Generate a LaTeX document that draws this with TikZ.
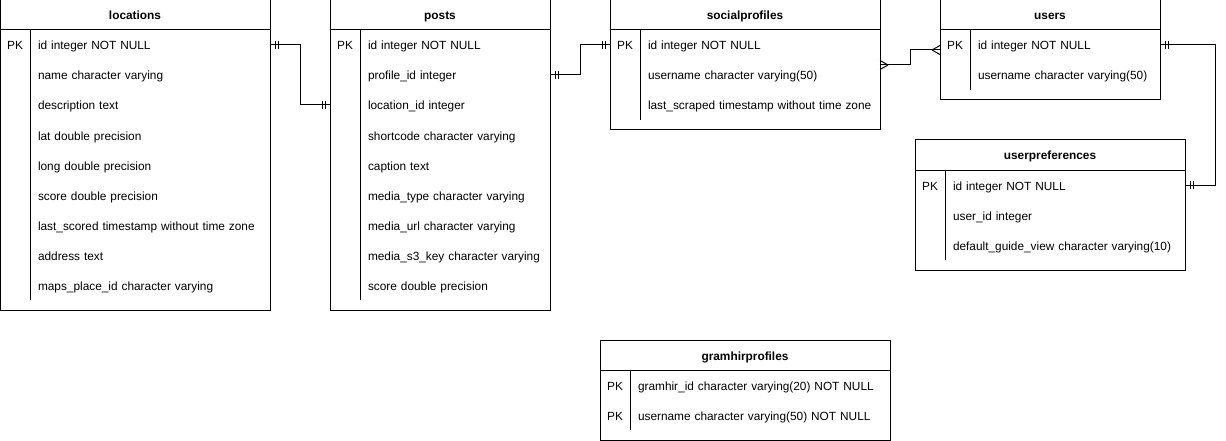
\documentclass[12pt,tikz,border=0pt]{standalone}
\usepackage{fontspec}
\setmainfont{Liberation Sans}
\usepackage{tikz}
\usetikzlibrary{positioning, decorations.markings}
\newcommand{\erdfont}{\fontsize{11.85pt}{14pt}\selectfont}
\tikzstyle{tablehead} = [
    rectangle, minimum height=30pt, inner sep=0pt, outer sep=0pt,
    text height=11pt, text depth=1pt,
    text centered, draw=black, line width=1pt, font=\erdfont\bfseries
]
\tikzstyle{tablebody} = [
    rectangle, inner sep=0pt, outer sep=0pt, draw=black, line width=1pt
]
\tikzstyle{fieldcell} = [
    rectangle, minimum height=30pt, text width=240pt, align=left,
    text height=11pt, text depth=1pt,
    inner sep=0pt, outer sep=0pt, font=\erdfont
]
\tikzstyle{pkcell} = [rectangle, inner sep=0pt, outer sep=0pt,
    text height=11pt, text depth=1pt, font=\erdfont]
\tikzstyle{divider} = [line width=1pt]
\tikzstyle{oneone} = [line width=1pt, postaction={decorate,
    decoration={markings,
    mark=at position 5pt with {\draw (0,-4pt) -- (0,4pt);},
    mark=at position 8pt with {\draw (0,-4pt) -- (0,4pt);},
    mark=at position -8pt with {\draw (0,-4pt) -- (0,4pt);},
    mark=at position -5pt with {\draw (0,-4pt) -- (0,4pt);}}}]
\tikzstyle{manymany} = [line width=1pt, postaction={decorate,
    decoration={markings,
    mark=at position 0.01pt with {\draw (8pt,0) -- (0,4.5pt) (8pt,0) -- (0,-4.5pt);},
    mark=at position -0.01pt with {\draw (-8pt,0) -- (0,4.5pt) (-8pt,0) -- (0,-4.5pt);}}}]

\begin{document}
\begin{tikzpicture}[x=1pt, y=1pt]
        \useasboundingbox (0,0) rectangle (1226,-441);

        % locations
        \node (locations) [tablehead, minimum width=270pt] at (135,-15) {locations};
        \node (locbody) [tablebody, minimum width=270pt, minimum height=280pt,
            below=0pt of locations] {};
        \node (loc1) [fieldcell, anchor=west]
            at ([xshift=38pt,yshift=-15pt]locbody.north west) {id integer NOT NULL};
        \node (loc2) [fieldcell, below=0pt of loc1] {name character varying};
        \node (loc3) [fieldcell, below=0pt of loc2] {description text};
        \node (loc4) [fieldcell, below=0pt of loc3] {lat double precision};
        \node (loc5) [fieldcell, below=0pt of loc4] {long double precision};
        \node (loc6) [fieldcell, below=0pt of loc5] {score double precision};
        \node (loc7) [fieldcell, below=0pt of loc6] {last\_scored timestamp without time zone};
        \node (loc8) [fieldcell, below=0pt of loc7] {address text};
        \node (loc9) [fieldcell, below=0pt of loc8] {maps\_place\_id character varying};
        \node (locpk) [pkcell, left=15pt of loc1] {PK};
        \draw [divider] ([xshift=-8pt]loc1.north west) -- ([xshift=-8pt]loc9.south west);

        % posts
        \node (posts) [tablehead, minimum width=220pt, right=60pt of locations] {posts};
        \node (postbody) [tablebody, minimum width=220pt, minimum height=280pt,
            below=0pt of posts] {};
        \node (post1) [fieldcell, anchor=west]
            at ([xshift=38pt,yshift=-15pt]postbody.north west) {id integer NOT NULL};
        \node (post2) [fieldcell, below=0pt of post1] {profile\_id integer};
        \node (post3) [fieldcell, below=0pt of post2] {location\_id integer};
        \node (post4) [fieldcell, below=0pt of post3] {shortcode character varying};
        \node (post5) [fieldcell, below=0pt of post4] {caption text};
        \node (post6) [fieldcell, below=0pt of post5] {media\_type character varying};
        \node (post7) [fieldcell, below=0pt of post6] {media\_url character varying};
        \node (post8) [fieldcell, below=0pt of post7] {media\_s3\_key character varying};
        \node (post9) [fieldcell, below=0pt of post8] {score double precision};
        \node (postpk) [pkcell, left=15pt of post1] {PK};
        \draw [divider] ([xshift=-8pt]post1.north west) -- ([xshift=-8pt]post9.south west);

        % socialprofiles
        \node (social) [tablehead, minimum width=270pt, right=60pt of posts] {socialprofiles};
        \node (socbody) [tablebody, minimum width=270pt, minimum height=100pt,
            below=0pt of social] {};
        \node (soc1) [fieldcell, anchor=west]
            at ([xshift=38pt,yshift=-15pt]socbody.north west) {id integer NOT NULL};
        \node (soc2) [fieldcell, below=0pt of soc1] {username character varying(50)};
        \node (soc3) [fieldcell, below=0pt of soc2] {last\_scraped timestamp without time zone};
        \node (socpk) [pkcell, left=15pt of soc1] {PK};
        \draw [divider] ([xshift=-8pt]soc1.north west) -- ([xshift=-8pt]soc3.south west);

        % users
        \node (users) [tablehead, minimum width=220pt, right=60pt of social] {users};
        \node (usrbody) [tablebody, minimum width=220pt, minimum height=70pt,
            below=0pt of users] {};
        \node (usr1) [fieldcell, anchor=west]
            at ([xshift=38pt,yshift=-15pt]usrbody.north west) {id integer NOT NULL};
        \node (usr2) [fieldcell, below=0pt of usr1] {username character varying(50)};
        \node (usrpk) [pkcell, left=15pt of usr1] {PK};
        \draw [divider] ([xshift=-8pt]usr1.north west) -- ([xshift=-8pt]usr2.south west);

        % userpreferences
        \node (prefs) [tablehead, minimum width=270pt, below=40pt of usrbody] {userpreferences};
        \node (prefbody) [tablebody, minimum width=270pt, minimum height=100pt,
            below=0pt of prefs] {};
        \node (pref1) [fieldcell, anchor=west]
            at ([xshift=38pt,yshift=-15pt]prefbody.north west) {id integer NOT NULL};
        \node (pref2) [fieldcell, below=0pt of pref1] {user\_id integer};
        \node (pref3) [fieldcell, below=0pt of pref2] {default\_guide\_view character varying(10)};
        \node (prefpk) [pkcell, left=15pt of pref1] {PK};
        \draw [divider] ([xshift=-8pt]pref1.north west) -- ([xshift=-8pt]pref3.south west);

        % gramhirprofiles
        \node (gramhir) [tablehead, minimum width=290pt, below=210pt of socbody] {gramhirprofiles};
        \node (grambody) [tablebody, minimum width=290pt, minimum height=70pt,
            below=0pt of gramhir] {};
        \node (gram1) [fieldcell, anchor=west]
            at ([xshift=38pt,yshift=-15pt]grambody.north west) {gramhir\_id character varying(20) NOT NULL};
        \node (gram2) [fieldcell, below=0pt of gram1] {username character varying(50) NOT NULL};
        \node (grampk1) [pkcell, left=15pt of gram1] {PK};
        \node (grampk2) [pkcell, left=15pt of gram2] {PK};
        \draw [divider] ([xshift=-8pt]gram1.north west) -- ([xshift=-8pt]gram2.south west);

        % relations
        \draw [oneone] (loc1.west -| locbody.east) -- ++(30,0)
            |- (post3.west -| postbody.west);
        \draw [oneone] (post2.west -| postbody.east) -- ++(30,0)
            |- (soc1.west -| socbody.west);
        \draw [manymany] ([yshift=15pt]socbody.east) -- ++(30,0)
            |- ([yshift=15pt]usrbody.west);
        \draw [oneone] (usr1.west -| usrbody.east) -- ++(55,0)
            |- (pref1.west -| prefbody.east);
    \end{tikzpicture}
\end{document}
